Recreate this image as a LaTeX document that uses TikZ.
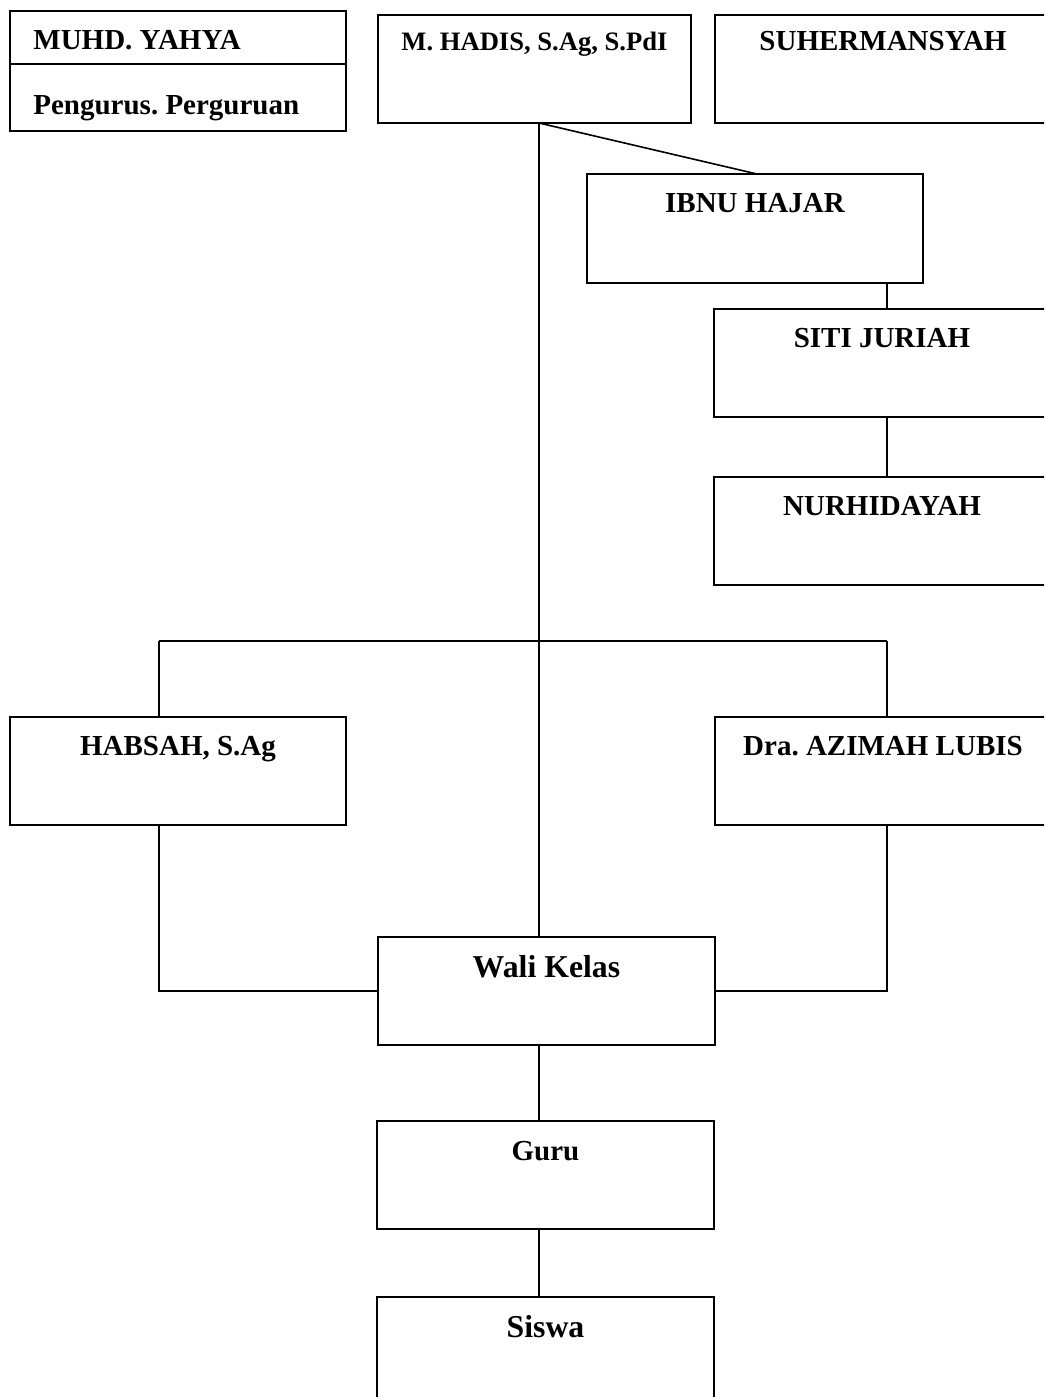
\documentclass[tikz,border=0pt]{standalone}
\usepackage{fontspec}
\setmainfont{Liberation Serif}
\usetikzlibrary{fit,calc}
\frenchspacing
\begin{document}
\begin{tikzpicture}[x=0.5pt,y=-0.5pt,
  box/.style={draw=black, line width=1pt, inner sep=0pt, outer sep=0pt},
  conn/.style={draw=black, line width=0.8pt},
  lbl/.style={anchor=base, inner sep=0pt, font=\fontsize{14.5}{17}\selectfont\bfseries},
  lbls/.style={anchor=base, inner sep=0pt, font=\fontsize{13.3}{16}\selectfont\bfseries},
  lbll/.style={anchor=base, inner sep=0pt, font=\fontsize{15.9}{19}\selectfont\bfseries}]
\path[use as bounding box, clip] (0,0) rectangle (1044,1397);
\fill[white] (0,0) rectangle (1044,1397);
% boxes
\node[box, fit={(10,11) (346,131)}] (muhd) {};
\node[box, fit={(378,15) (691,123)}] (hadis) {};
\node[box, fit={(715,15) (1051,123)}] (suher) {};
\node[box, fit={(587,174) (923,283)}] (ibnu) {};
\node[box, fit={(714,309) (1050,417)}] (siti) {};
\node[box, fit={(714,477) (1050,585)}] (nurh) {};
\node[box, fit={(10,717) (346,825)}] (habsah) {};
\node[box, fit={(715,717) (1051,825)}] (azimah) {};
\node[box, fit={(378,937) (715,1045)}] (wali) {};
\node[box, fit={(377,1121) (714,1229)}] (guru) {};
\node[box, fit={(377,1297) (714,1405)}] (siswa) {};
% divider in first box
\draw[box] (muhd.west |- 0,64) -- (muhd.east |- 0,64);
% labels
\node[lbl, anchor=base west] (tmuhd) at (33,49) {MUHD. YAHYA};
\node[lbl, anchor=base west] (tpeng) at (33,114) {Pengurus. Perguruan};
\node[lbls] (thadis) at ($(hadis.north)+(0,35)$) {M. HADIS, S.Ag, S.PdI};
\node[lbl] (tsuher) at ($(suher.north)+(0,35)$) {SUHERMANSYAH};
\node[lbl] (tibnu) at ($(ibnu.north)+(0,38)$) {IBNU HAJAR};
\node[lbl] (tsiti) at ($(siti.north)+(0,38)$) {SITI JURIAH};
\node[lbl] (tnurh) at ($(nurh.north)+(0,38)$) {NURHIDAYAH};
\node[lbl] (thabsah) at ($(habsah.north)+(0,38)$) {HABSAH, S.Ag};
\node[lbl] (tazimah) at ($(azimah.north)+(0,38)$) {Dra. AZIMAH LUBIS};
\node[lbll] (twali) at ($(wali.north)+(0,40)$) {Wali Kelas};
\node[lbl] (tguru) at ($(guru.north)+(0,39)$) {Guru};
\node[lbll] (tsiswa) at ($(siswa.north)+(0,40)$) {Siswa};
% reference coordinates for connector columns
\coordinate (trunk) at (539,641);
\coordinate (lbus) at (159,641);
\coordinate (rbus) at (887,641);
% connectors
\draw[conn] (hadis.south -| trunk) -- ($(ibnu.north)+(2,0)$);
\draw[conn] (hadis.south -| trunk) -- (wali.north -| trunk);
\draw[conn] (ibnu.south -| rbus) -- (siti.north -| rbus);
\draw[conn] (siti.south -| rbus) -- (nurh.north -| rbus);
\draw[conn] (lbus) -- (rbus);
\draw[conn] (lbus) -- (habsah.north -| lbus);
\draw[conn] (rbus) -- (azimah.north -| rbus);
\draw[conn] (habsah.south -| lbus) |- (wali.west);
\draw[conn] (azimah.south -| rbus) |- (wali.east);
\draw[conn] (wali.south -| trunk) -- (guru.north -| trunk);
\draw[conn] (guru.south -| trunk) -- (siswa.north -| trunk);
\end{tikzpicture}
\end{document}
